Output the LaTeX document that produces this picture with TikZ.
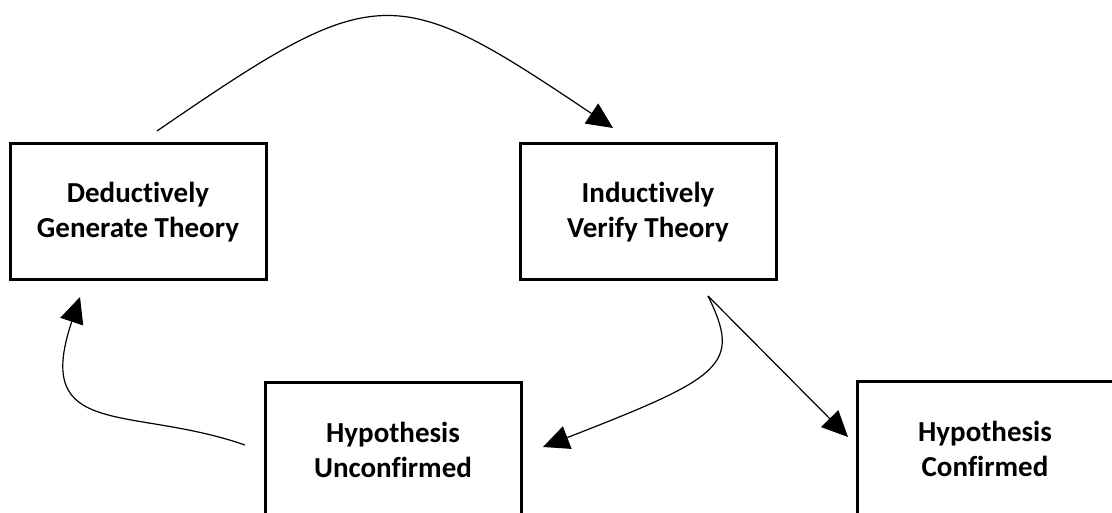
\documentclass[tikz,border=0pt]{standalone}
\usepackage{fontspec}
\setmainfont{Carlito}[Ligatures=NoCommon]
\usetikzlibrary{arrows.meta}

\begin{document}
\begin{tikzpicture}[x=1pt,y=-1pt,
    stage/.style={draw, line width=3pt, minimum width=256pt, minimum height=136pt, align=center, inner sep=0pt, font=\bfseries\fontsize{29}{35}\selectfont},
    flow/.style={line width=1.2pt, -{Triangle[length=26pt,width=24pt]}}]
  \path[use as bounding box, clip] (0,0) rectangle (1112,513);

  \node[stage] (deduce) at (138,212) {Deductively\\Generate Theory};
  \node[stage] (induce) at (648,212) {Inductively\\Verify Theory};
  \node[stage] (unconf) at (393,450) {Hypothesis\\Unconfirmed};
  \node[stage] (conf) at (985,449) {Hypothesis\\Confirmed};

  % free ends of the connectors
  \coordinate (arcStart) at (157,131);
  \coordinate (arcEnd) at (613,128);
  \coordinate (split) at (708,296);
  \coordinate (confTip) at (848,437);
  \coordinate (unconfTip) at (543,447);
  \coordinate (backStart) at (245,445);
  \coordinate (backTip) at (80,297);

  \draw[flow] (arcStart) .. controls (377,-20) and (393,-20) .. (arcEnd);
  \draw[flow] (split) -- (confTip);
  \draw[flow] (split) .. controls (742,365) and (723,377) .. (unconfTip);
  \draw[flow] (backStart) .. controls (130,405) and (32,440) .. (backTip);
\end{tikzpicture}
\end{document}
